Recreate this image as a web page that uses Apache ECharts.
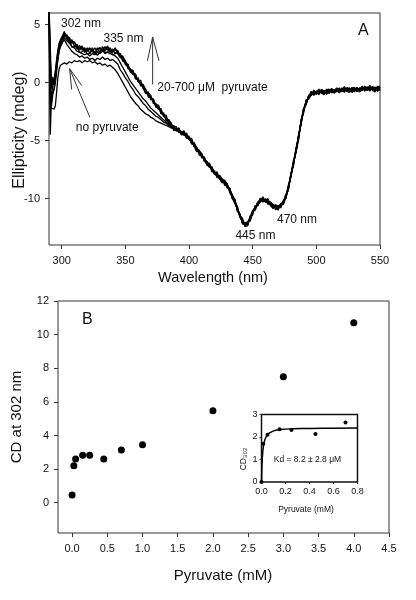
<!DOCTYPE html>
<html><head><meta charset="utf-8">
<script src="https://cdn.jsdelivr.net/npm/echarts@6/dist/echarts.min.js"></script>
<style>html,body{margin:0;padding:0;background:#fff}#c{width:416px;height:600px}</style>
</head><body><div id="c"></div>
<script>
// ---------- Panel A: CD spectra ----------
const wavelengths = [
 290,291,292,293,294,295,296,297,298,299,
 300,302,304,306,308,310,312,314,316,318,
 320,322,324,326,328,330,332,334,336,338,
 340,342,344,346,348,350,352,354,356,358,
 360,362,364,366,368,370,372,374,376,378,
 380,382,384,386,388,390,392,394,396,398,
 400,402,404,406,408,410,412,414,416,418,
 420,422,424,426,428,430,432,434,436,438,
 440,442,444,446,448,450,452,454,456,458,
 460,462,464,466,468,470,472,474,476,478,
 480,482,484,486,488,490,492,494,496,498,
 500,502,504,506,508,510,512,514,516,518,
 520,522,524,526,528,530,532,534,536,538,
 540,542,544,546,548,550];

const pyr1 = [
 6.8,3.0,-0.5,0.3,0.1,1.0,2.0,2.8,3.4,3.7,
 3.9,4.3,3.8,3.9,3.4,3.5,3.0,3.2,2.8,3.0,
 2.7,2.9,2.7,3.0,2.6,3.0,2.8,3.1,2.8,3.0,
 2.6,2.9,2.5,2.5,2.0,1.8,1.3,1.2,0.7,0.6,
 0.1,0.0,-0.5,-0.6,-1.1,-1.2,-1.7,-1.8,-2.3,-2.4,
 -2.9,-3.0,-3.5,-3.5,-4.0,-3.9,-4.2,-4.2,-4.5,-4.5,
 -4.9,-5.0,-5.5,-5.6,-6.1,-6.2,-6.7,-6.8,-7.3,-7.4,
 -7.9,-7.9,-8.3,-8.3,-8.7,-8.8,-9.4,-9.7,-10.4,-10.8,
 -11.6,-11.9,-12.4,-12.0,-11.8,-11.1,-10.9,-10.3,-10.3,-10.0,
 -10.3,-10.2,-10.6,-10.5,-10.8,-10.7,-10.7,-10.2,-10.0,-9.0,
 -8.1,-6.9,-6.0,-4.6,-3.5,-2.3,-1.8,-1.1,-1.1,-0.8,
 -1.0,-0.7,-0.9,-0.7,-0.9,-0.6,-0.8,-0.6,-0.8,-0.55,
 -0.8,-0.5,-0.75,-0.45,-0.7,-0.5,-0.7,-0.45,-0.7,-0.4,
 -0.7,-0.4,-0.65,-0.4,-0.6,-0.35];

const pyr2 = [
 6.5,-4.5,-1.0,-0.3,0.2,0.6,1.5,2.4,3.1,3.5,
 3.6,4.0,4.1,3.5,3.7,3.1,3.3,2.8,3.1,2.6,
 3.0,2.5,3.0,2.5,3.0,2.6,3.1,2.7,3.1,2.6,
 2.9,2.5,2.8,2.2,2.3,1.5,1.6,0.9,1.0,0.3,
 0.4,-0.3,-0.2,-0.9,-0.8,-1.5,-1.4,-2.1,-2.0,-2.7,
 -2.6,-3.3,-3.2,-3.8,-3.7,-4.2,-3.9,-4.5,-4.2,-4.8,
 -4.6,-5.3,-5.2,-5.9,-5.8,-6.5,-6.4,-7.1,-7.0,-7.7,
 -7.6,-8.2,-8.0,-8.6,-8.4,-9.1,-9.1,-10.0,-10.1,-11.1,
 -11.3,-12.2,-12.1,-12.3,-11.5,-11.4,-10.6,-10.6,-10.0,-10.3,
 -10.0,-10.5,-10.3,-10.8,-10.5,-11.0,-10.4,-10.5,-9.7,-9.3,
 -7.8,-7.2,-5.7,-4.9,-3.2,-2.6,-1.5,-1.4,-0.8,-1.1,
 -0.7,-1.05,-0.6,-1.0,-0.55,-0.95,-0.5,-0.9,-0.5,-0.9,
 -0.45,-0.85,-0.45,-0.8,-0.4,-0.8,-0.4,-0.8,-0.35,-0.75,
 -0.35,-0.75,-0.35,-0.75,-0.3,-0.7];

const pyr3 = [
 6.6,1.0,-0.2,0.5,-0.1,0.9,1.8,2.7,3.3,3.6,
 3.8,4.4,3.8,3.45,3.6,3.5,2.9,3.0,3.15,2.65,
 2.8,3.0,2.7,2.45,2.9,3.0,2.7,2.9,3.15,2.65,
 2.7,3.0,2.5,2.15,2.2,1.9,1.2,1.1,1.05,0.35,
 0.2,0.2,-0.5,-0.95,-0.9,-1.1,-1.8,-1.9,-1.95,-2.65,
 -2.8,-2.8,-3.5,-3.85,-3.8,-3.8,-4.3,-4.3,-4.15,-4.75,
 -4.8,-4.8,-5.5,-5.95,-5.9,-6.1,-6.8,-6.9,-6.95,-7.65,
 -7.8,-7.7,-8.3,-8.65,-8.5,-8.7,-9.5,-9.8,-10.05,-11.05,
 -11.5,-11.7,-12.4,-12.35,-11.6,-11.0,-11.0,-10.4,-9.95,-10.25,
 -10.2,-10.0,-10.6,-10.85,-10.6,-10.6,-10.8,-10.3,-9.65,-9.25,
 -8.0,-6.7,-6.0,-4.95,-3.3,-2.2,-1.9,-1.2,-0.75,-1.05,
 -0.9,-0.55,-0.9,-1.05,-0.65,-0.55,-0.9,-0.7,-0.45,-0.85,
 -0.65,-0.35,-0.75,-0.85,-0.5,-0.4,-0.8,-0.6,-0.3,-0.7,
 -0.55,-0.25,-0.65,-0.8,-0.4,-0.3];

const pyr4 = [
 6.4,2.0,0.2,-0.2,-0.3,0.4,1.4,2.3,3.0,3.3,
 3.7,4.1,4.1,3.8,3.05,3.1,3.05,2.6,2.65,2.85,
 2.5,2.5,2.8,2.6,2.35,2.6,2.85,2.5,2.65,2.85,
 2.4,2.5,2.6,2.3,1.85,1.7,1.55,0.9,0.75,0.75,
 0.1,-0.1,-0.2,-0.6,-1.25,-1.3,-1.45,-2.1,-2.25,-2.25,
 -2.9,-3.1,-3.2,-3.5,-4.15,-4.0,-3.95,-4.5,-4.45,-4.35,
 -4.9,-5.1,-5.2,-5.6,-6.25,-6.3,-6.45,-7.1,-7.25,-7.25,
 -7.9,-8.0,-8.0,-8.3,-8.85,-8.9,-9.15,-10.0,-10.35,-10.65,
 -11.6,-12.0,-12.1,-12.0,-11.95,-11.2,-10.65,-10.6,-10.25,-9.85,
 -10.3,-10.3,-10.3,-10.5,-10.95,-10.8,-10.45,-10.5,-9.95,-8.85,
 -8.1,-7.0,-5.7,-4.6,-3.65,-2.4,-1.55,-1.4,-1.05,-0.65,
 -1.0,-0.85,-0.6,-0.7,-1.0,-0.75,-0.55,-0.9,-0.75,-0.45,
 -0.75,-0.65,-0.45,-0.5,-0.85,-0.6,-0.45,-0.8,-0.6,-0.3,
 -0.65,-0.55,-0.35,-0.45,-0.75,-0.5];

const pyrLow1 = [
 6.3,0.5,-1.5,-0.8,-0.5,0.2,1.2,2.1,2.8,3.2,
 3.4,3.7,3.3,3.0,2.7,2.5,2.4,2.2,2.3,2.1,
 2.2,2.0,2.1,1.9,2.1,2.0,2.2,2.0,2.1,1.9,
 2.0,1.8,1.6,1.1,0.8,0.4,0.1,-0.3,-0.6,-1.0,
 -1.2,-1.5,-1.8,-2.0,-2.3,-2.5,-2.7,-2.9,-3.0,-3.2,
 -3.4,-3.5,-3.7,-3.8,-4.0,-4.0,-4.2,-4.3,-4.5,-4.6,
 -4.9,-5.0,-5.5,-5.6,-6.1,-6.2,-6.7,-6.8,-7.3,-7.4,
 -7.7,-8.1,-8.1,-8.5,-8.5,-9.0,-9.2,-9.9,-10.2,-11.0,
 -11.4,-12.1,-12.2,-12.2,-11.6,-11.3,-10.7,-10.5,-10.1,-10.2,
 -10.1,-10.4,-10.4,-10.7,-10.6,-10.9,-10.5,-10.4,-9.8,-9.2,
 -7.9,-7.1,-5.8,-4.8,-3.3,-2.5,-1.6,-1.3,-0.9,-1.0,
 -0.8,-0.95,-0.7,-0.9,-0.65,-0.85,-0.6,-0.8,-0.6,-0.8,
 -0.55,-0.75,-0.55,-0.7,-0.5,-0.7,-0.5,-0.7,-0.45,-0.65,
 -0.45,-0.65,-0.45,-0.65,-0.4,-0.6];

const pyrLow2 = [
 6.2,-1.0,-2.0,-1.0,-0.6,0.0,1.0,2.0,2.7,3.1,
 3.3,3.9,3.6,3.4,3.1,3.0,2.7,2.6,2.5,2.4,
 2.5,2.3,2.5,2.4,2.6,2.5,2.7,2.6,2.6,2.5,
 2.4,2.3,2.1,1.7,1.3,0.9,0.5,0.1,-0.2,-0.5,
 -0.8,-1.1,-1.4,-1.6,-1.9,-2.2,-2.4,-2.6,-2.8,-3.0,
 -3.2,-3.4,-3.6,-3.8,-3.9,-4.1,-4.2,-4.4,-4.5,-4.7,
 -4.7,-5.2,-5.3,-5.8,-5.9,-6.4,-6.5,-7.0,-7.1,-7.6,
 -7.7,-8.0,-8.3,-8.3,-8.5,-9.0,-9.2,-9.7,-10.4,-10.9,
 -11.4,-12.1,-12.2,-12.1,-11.8,-11.2,-10.7,-10.5,-10.2,-10.1,
 -10.1,-10.4,-10.4,-10.6,-10.8,-10.7,-10.7,-10.2,-10.0,-9.0,
 -8.1,-6.9,-6.0,-4.6,-3.5,-2.3,-1.8,-1.1,-1.1,-0.8,
 -0.95,-0.75,-0.85,-0.7,-0.85,-0.65,-0.8,-0.6,-0.75,-0.6,
 -0.7,-0.55,-0.7,-0.5,-0.65,-0.5,-0.7,-0.45,-0.6,-0.45,
 -0.6,-0.45,-0.6,-0.4,-0.55,-0.4];

const noPyruvate = [
 5.5,-2.0,-2.2,-2.3,-2.3,-2.0,-0.8,0.5,1.2,1.5,
 1.5,1.7,1.6,1.8,1.7,1.9,1.8,1.9,1.7,1.9,
 1.8,1.9,1.7,1.8,1.6,1.7,1.5,1.6,1.4,1.5,
 1.3,1.1,0.8,0.4,0.0,-0.4,-0.8,-1.2,-1.5,-1.8,
 -2.0,-2.3,-2.5,-2.7,-2.8,-3.0,-3.1,-3.3,-3.4,-3.5,
 -3.6,-3.7,-3.8,-3.9,-4.0,-4.1,-4.2,-4.3,-4.5,-4.6,
 -4.8,-5.0,-5.4,-5.6,-6.0,-6.2,-6.6,-6.8,-7.2,-7.4,
 -7.8,-7.9,-8.2,-8.3,-8.6,-8.8,-9.3,-9.7,-10.3,-10.8,
 -11.5,-11.9,-12.3,-12.0,-11.7,-11.1,-10.8,-10.3,-10.2,-10.0,
 -10.2,-10.2,-10.5,-10.5,-10.7,-10.7,-10.6,-10.2,-9.9,-9.0,
 -8.0,-6.9,-5.9,-4.6,-3.4,-2.3,-1.7,-1.1,-1.0,-0.8,
 -0.9,-0.8,-0.8,-0.75,-0.75,-0.7,-0.7,-0.65,-0.7,-0.65,
 -0.65,-0.6,-0.65,-0.55,-0.6,-0.55,-0.6,-0.55,-0.55,-0.5,
 -0.55,-0.5,-0.55,-0.5,-0.5,-0.45];

const spectraTicksX = [300,350,400,450,500,550];
const spectraTicksY = [-10,-5,0,5];

// ---------- Panel B: titration ----------
const pyruvateMM = [0, 0.025, 0.05, 0.15, 0.25, 0.45, 0.7, 1.0, 2.0, 3.0, 4.0];
const cd302 = [0.46, 2.2, 2.6, 2.83, 2.83, 2.6, 3.13, 3.45, 5.47, 7.5, 10.7];
const titrTicksX = [0,0.5,1,1.5,2,2.5,3,3.5,4,4.5];
const titrTicksY = [0,2,4,6,8,10,12];

// ---------- Inset ----------
const insetX = [0, 0.015, 0.05, 0.15, 0.25, 0.45, 0.7];
const insetY = [0, 1.7, 2.1, 2.34, 2.31, 2.13, 2.65];
const fitX = [0,0.003,0.006,0.01,0.015,0.02,0.03,0.05,0.08,0.12,0.2,0.4,0.6,0.8];
const fitY = [0,0.6,1.0,1.3,1.55,1.7,1.9,2.1,2.22,2.3,2.35,2.38,2.39,2.4];

const FONT = 'Liberation Sans, Arial, Helvetica, sans-serif';
const TXT = '#111';

function pairs(xs, ys){ const out=[]; for(let i=0;i<Math.min(xs.length,ys.length);i++) out.push([xs[i],ys[i]]); return out; }

const spectra = [pyr1,pyr2,pyr3,pyr4,pyrLow1,pyrLow2,noPyruvate];

function axis(grid, min, max, ticks, fmt, fs, margin, tickLen){
  return {type:'value', gridIndex:grid, min, max, splitLine:{show:false},
    axisLine:{show:false, onZero:false},
    axisTick:{show:true, inside:false, length:tickLen, customValues:ticks, lineStyle:{color:'#333'}},
    axisLabel:{customValues:ticks, formatter:fmt, fontSize:fs, fontFamily:FONT, color:TXT, margin}};
}

const option = {
  animation:false,
  backgroundColor:'#fff',
  grid:[
    {left:49, top:13, width:331, height:232, show:true, borderColor:'#333', borderWidth:1, backgroundColor:'transparent'},
    {left:58, top:301, width:331, height:232, show:true, borderColor:'#333', borderWidth:1, backgroundColor:'transparent'},
    {left:261.5, top:414.5, width:96, height:67.5, show:true, borderColor:'#111', borderWidth:1.5, backgroundColor:'transparent'}
  ],
  xAxis:[
    axis(0, 290, 550, spectraTicksX, v=>String(v), 11, 10, 4),
    axis(1, -0.2, 4.5, titrTicksX, v=>v.toFixed(1), 11, 10, 4),
    axis(2, 0, 0.8, [0,0.2,0.4,0.6,0.8], v=>v.toFixed(1), 9, 5, 2)
  ],
  yAxis:[
    axis(0, -14, 6, spectraTicksY, v=>String(v), 11, 9, 4),
    axis(1, -1.8, 12, titrTicksY, v=>String(v), 11, 9, 4),
    axis(2, 0, 3, [0,1,2,3], v=>String(v), 9, 4, 2)
  ],
  series:[
    ...spectra.map(s=>({type:'line', xAxisIndex:0, yAxisIndex:0, data:pairs(wavelengths,s),
      showSymbol:false, symbol:'none', lineStyle:{color:'#000', width:1.3}, clip:true, z:2})),
    {type:'scatter', xAxisIndex:1, yAxisIndex:1, data:pairs(pyruvateMM,cd302), symbolSize:7, itemStyle:{color:'#000', opacity:1}},
    {type:'line', xAxisIndex:2, yAxisIndex:2, data:pairs(fitX,fitY), showSymbol:false, symbol:'none', smooth:true, lineStyle:{color:'#000', width:1.5}},
    {type:'scatter', xAxisIndex:2, yAxisIndex:2, data:pairs(insetX,insetY), symbolSize:4, itemStyle:{color:'#000', opacity:1}, clip:false}
  ]
};

const chart = echarts.init(document.getElementById('c'), null, {renderer:'canvas'});
chart.setOption(option);

function P(g, x, y){ return chart.convertToPixel({gridIndex:g}, [x,y]); }
function txt(p, text, fs, align){ return {type:'text', x:p[0], y:p[1], z:10,
  style:{text, fontSize:fs, fontFamily:FONT, fill:TXT, align:align||'left', verticalAlign:'middle'}}; }
function poly(pts){ return {type:'polyline', z:10, shape:{points:pts}, style:{stroke:'#333', lineWidth:1, fill:null}}; }

const g = [
  {type:'text', x:20, y:130, rotation:Math.PI/2, style:{text:'Ellipticity (mdeg)', fontSize:16, fontFamily:FONT, fill:TXT, align:'center', verticalAlign:'middle'}},
  {type:'text', x:213, y:278, style:{text:'Wavelength (nm)', fontSize:14.5, fontFamily:FONT, fill:TXT, align:'center', verticalAlign:'middle'}},
  {type:'text', x:17, y:417, rotation:Math.PI/2, style:{text:'CD at 302 nm', fontSize:15, fontFamily:FONT, fill:TXT, align:'center', verticalAlign:'middle'}},
  {type:'text', x:223, y:576, style:{text:'Pyruvate (mM)', fontSize:15, fontFamily:FONT, fill:TXT, align:'center', verticalAlign:'middle'}},
  {type:'text', x:243.5, y:459, rotation:Math.PI/2, style:{text:'CD₃₀₂', fontSize:8.5, fontFamily:FONT, fill:TXT, align:'center', verticalAlign:'middle'}},
  {type:'text', x:306, y:510, style:{text:'Pyruvate (mM)', fontSize:8.5, fontFamily:FONT, fill:TXT, align:'center', verticalAlign:'middle'}},
  txt(P(0,299.4,5.08), '302 nm', 12),
  txt(P(0,332.8,3.78), '335 nm', 12),
  txt(P(0,375.1,-0.44), '20-700 μM  pyruvate', 12),
  txt(P(0,311.1,-3.92), 'no pyruvate', 12),
  txt(P(0,436.4,-13.2), '445 nm', 12),
  txt(P(0,469.1,-11.8), '470 nm', 12),
  txt(P(0,532.8,4.47), 'A', 16),
  poly([P(0,371.4,-0.15), P(0,371.4,3.92)]),
  poly([P(0,367.3,1.88), P(0,371.4,3.92), P(0,376.4,1.88)]),
  poly([P(0,322.1,-3.0), P(0,306.2,1.2)]),
  poly([P(0,307.8,-0.6), P(0,306.2,1.2), P(0,315.8,-0.26)]),
  txt(P(1,0.14,10.9), 'B', 16),
  txt(P(2,0.383,1.0), 'Kd = 8.2 ± 2.8 μM', 8.5, 'center')
];
chart.setOption({graphic:g});
</script>
</body></html>
